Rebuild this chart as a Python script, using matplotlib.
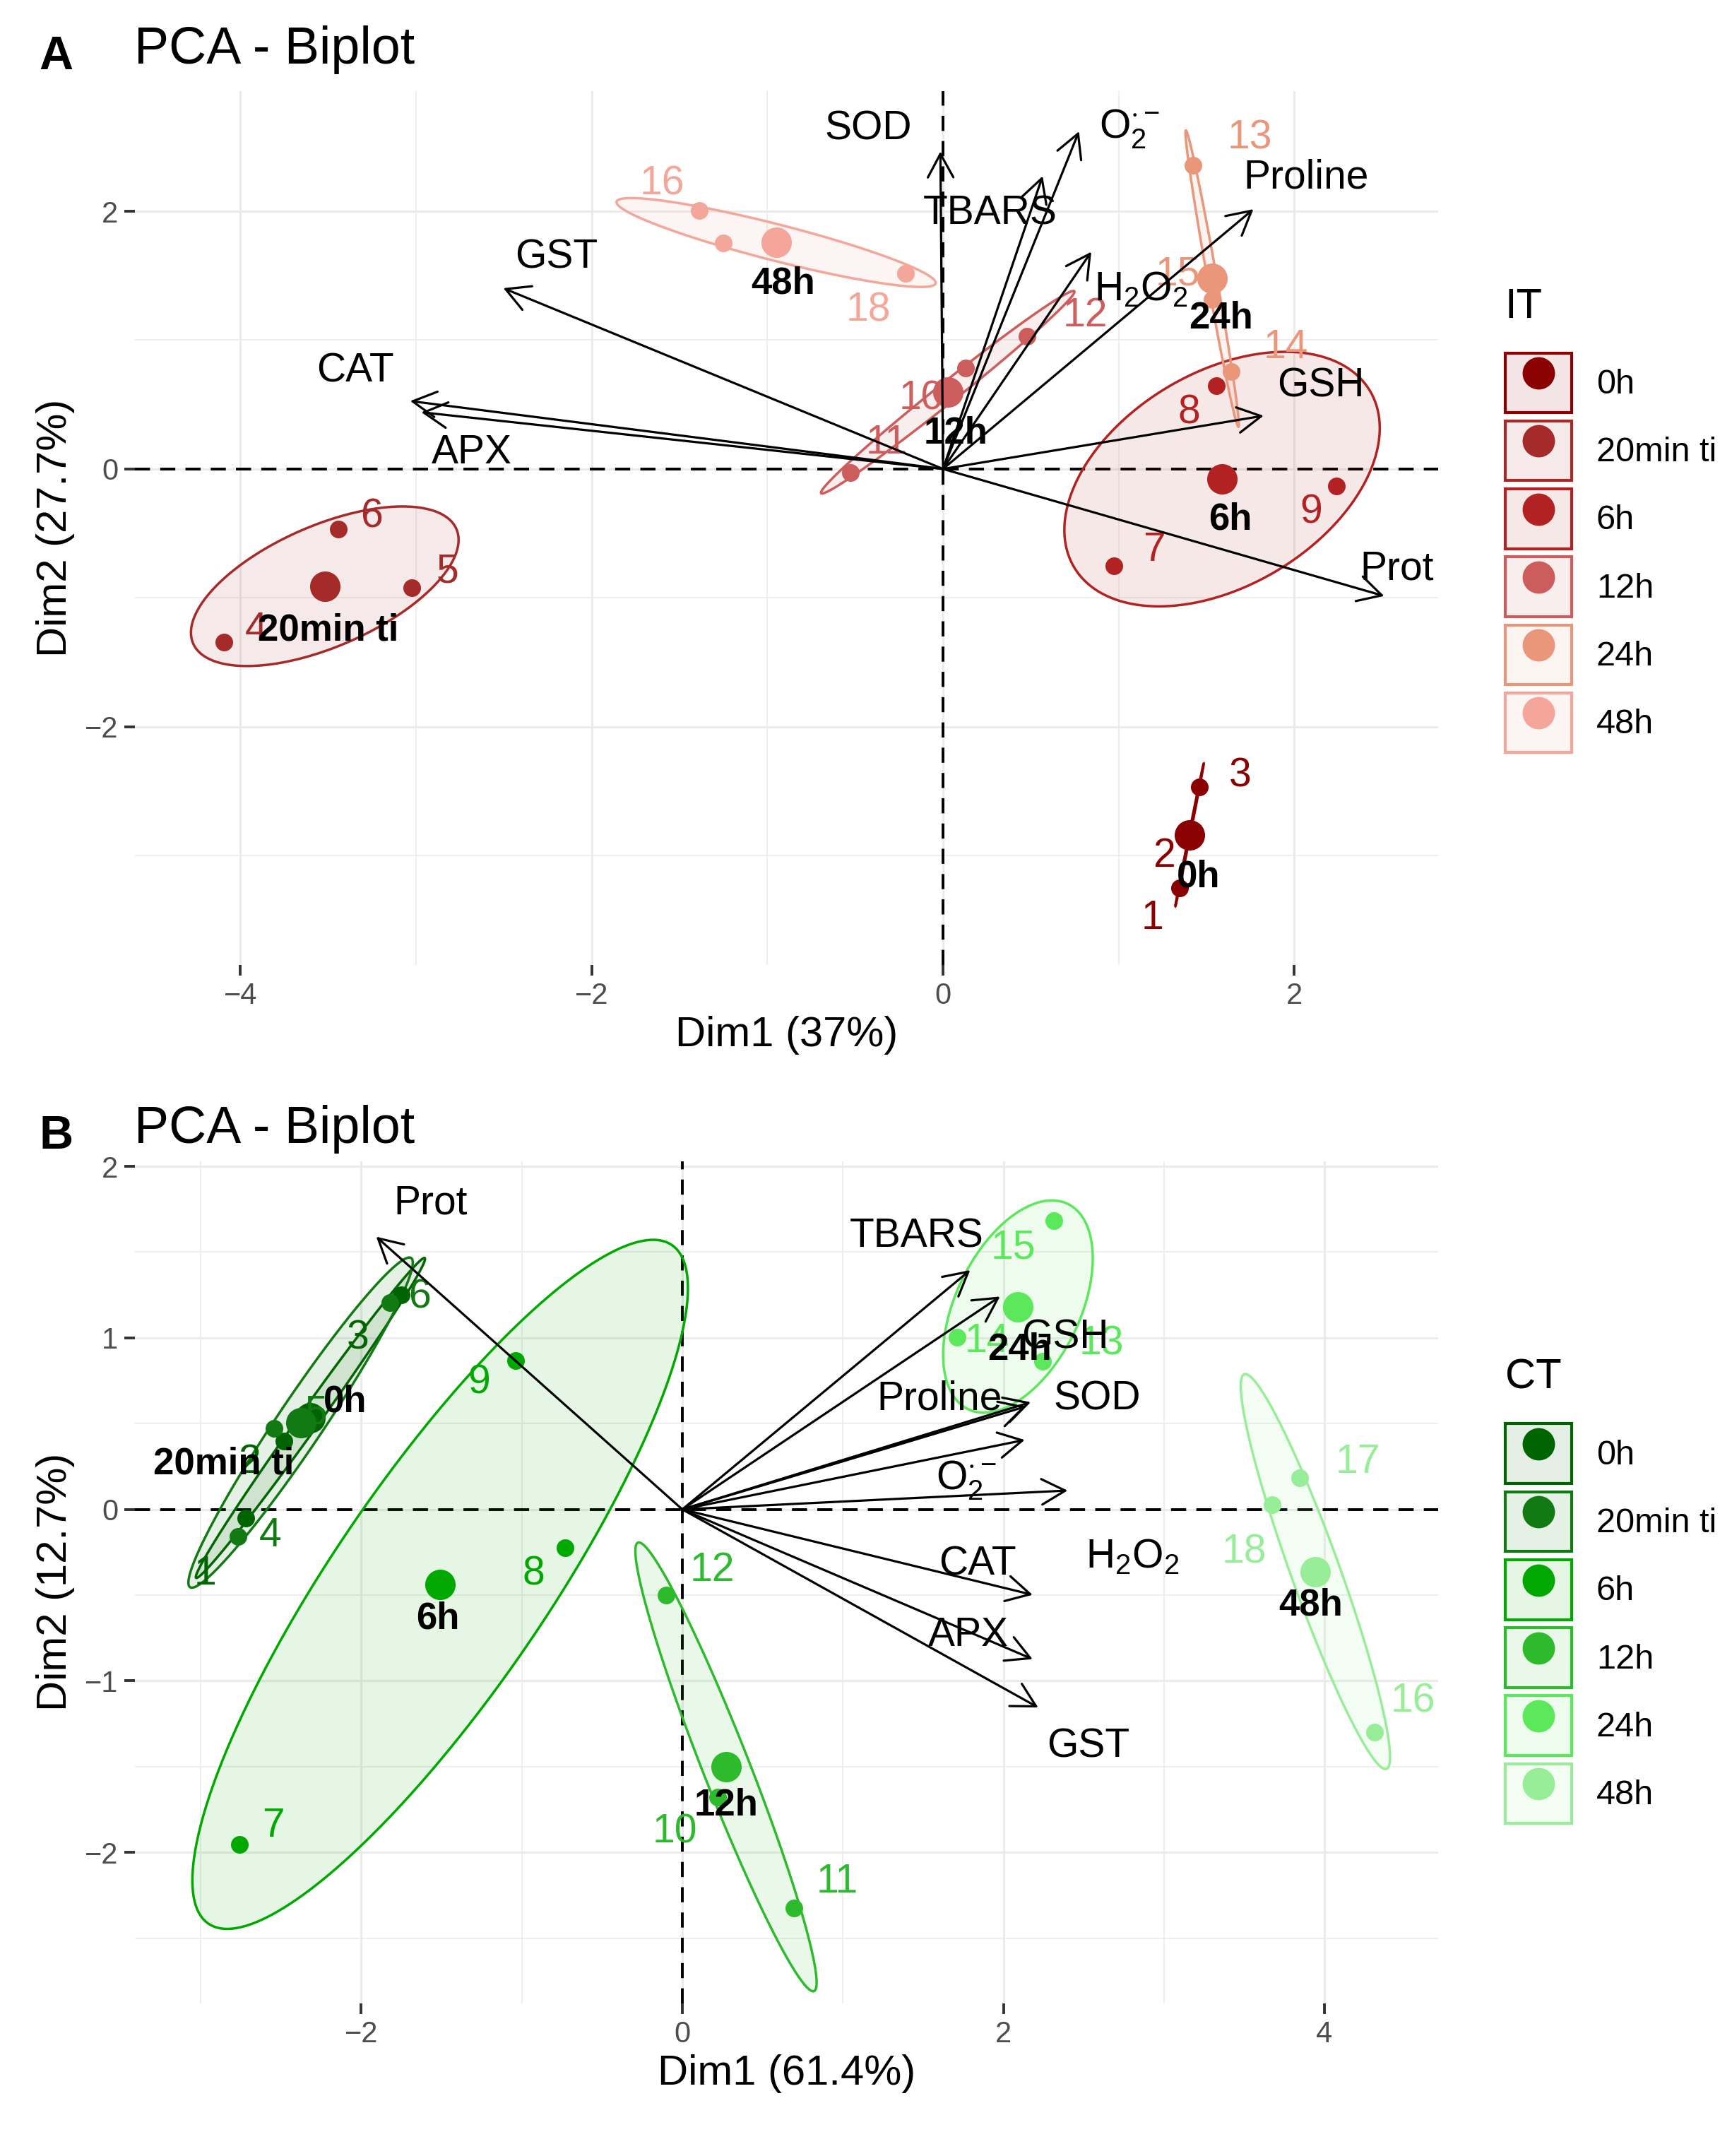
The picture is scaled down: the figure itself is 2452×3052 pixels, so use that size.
import numpy as np
import matplotlib
matplotlib.use("Agg")
import matplotlib.pyplot as plt
from matplotlib.patches import FancyArrowPatch, ArrowStyle, Patch
from matplotlib.lines import Line2D
from matplotlib.legend_handler import HandlerTuple
from matplotlib.colors import to_rgba

plt.rcParams['font.family'] = ['Liberation Sans', 'DejaVu Sans']
plt.rcParams['mathtext.fontset'] = 'custom'
plt.rcParams['mathtext.rm'] = 'Liberation Sans'
plt.rcParams['mathtext.it'] = 'Liberation Sans:italic'

groups = ['0h', '20min ti', '6h', '12h', '24h', '48h']
ind_group = [0, 0, 0, 1, 1, 1, 2, 2, 2, 3, 3, 3, 4, 4, 4, 5, 5, 5]
ind_names = [str(i) for i in range(1, 19)]

# ---- panel A (IT) ----
a_colors = ['#8B0000', '#A52A2A', '#B22222', '#CD5C5C', '#E9967A', '#F4A69A']
a_ind_x = [1.345, 1.406, 1.459, -4.092, -3.022, -3.444, 0.971, 1.554, 2.240,
           0.128, -0.527, 0.479, 1.425, 1.640, 1.531, -1.388, -1.250, -0.212]
a_ind_y = [-3.25, -2.80, -2.47, -1.342, -0.923, -0.466, -0.750, 0.645, -0.131,
           0.785, -0.031, 1.032, 2.359, 0.755, 1.317, 2.004, 1.752, 1.516]
a_lab_x = [1.194, 1.257, 1.691, -3.909, -2.820, -3.254, 1.202, 1.399, 2.094,
           -0.123, -0.32, 0.808, 1.747, 1.952, 1.337, -1.598, np.nan, -0.423]
a_lab_y = [-3.49, -3.006, -2.382, -1.253, -0.801, -0.371, -0.629, 0.435, -0.339,
           0.543, 0.20, 1.189, 2.565, 0.941, 1.511, 2.210, np.nan, 1.231]
a_grp_lab_x = [1.455, -3.498, 1.636, 0.074, 1.581, -0.911]
a_grp_lab_y = [-3.167, -1.253, -0.393, 0.274, 1.167, 1.436]

a_vars = ['SOD', r'$\mathregular{O_2^{\cdot-}}$', 'TBARS', r'$\mathregular{H_2O_2}$',
          'Proline', 'GSH', 'Prot', 'GST', 'CAT', 'APX']
a_var_x = [-0.015, 0.774, 0.567, 0.844, 1.767, 1.825, 2.511, -2.503, -3.033, -2.97]
a_var_y = [2.464, 2.620, 2.273, 1.685, 2.016, 0.413, -0.986, 1.403, 0.527, 0.44]
a_var_lab_x = [-0.426, 1.06, 0.267, 1.125, 2.067, 2.15, 2.583, -2.201, -3.344, -2.681]
a_var_lab_y = [2.640, 2.64, 1.979, 1.39, 2.260, 0.645, -0.775, 1.641, 0.760, 0.123]

# ---- panel B (CT) ----
b_colors = ['#006400', '#127A12', '#00A800', '#2DBB2D', '#5BE85B', '#98EE98']
b_ind_x = [-2.72, -2.48, -1.75, -2.769, -2.543, -1.822, -2.757, -0.729, -1.040,
           0.220, 0.695, -0.099, 2.245, 1.712, 2.315, 4.311, 3.844, 3.676]
b_ind_y = [-0.05, 0.40, 1.25, -0.157, 0.471, 1.204, -1.953, -0.224, 0.866,
           -1.679, -2.325, -0.499, 0.864, 1.002, 1.682, -1.299, 0.184, 0.028]
b_lab_x = [-2.973, -2.696, -2.023, -2.567, -2.282, -1.635, -2.550, -0.927, -1.264,
           -0.047, 0.963, 0.186, 2.611, 1.90, 2.063, 4.553, 4.208, 3.50]
b_lab_y = [-0.378, 0.276, 0.996, -0.152, 0.559, 1.238, -1.848, -0.378, 0.737,
           -1.881, -2.171, -0.354, 0.963, 0.98, 1.526, -1.121, 0.276, -0.249]
b_grp_lab_x = [-2.100, -2.857, -1.523, 0.272, 2.10, 3.914]
b_grp_lab_y = [0.625, 0.266, -0.637, -1.727, 0.93, -0.561]

b_vars = ['Prot', 'TBARS', 'GSH', 'Proline', 'SOD', r'$\mathregular{O_2^{\cdot-}}$',
          r'$\mathregular{H_2O_2}$', 'CAT', 'APX', 'GST']
b_var_x = [-1.907, 1.793, 1.979, 2.14, 2.17, 2.133, 2.400, 2.182, 2.182, 2.217]
b_var_y = [1.590, 1.395, 1.241, 0.60, 0.625, 0.405, 0.110, -0.498, -0.873, -1.155]
b_var_lab_x = [-1.570, 1.459, 2.386, 1.600, 2.582, 1.77, 2.806, 1.838, 1.782, 2.527]
b_var_lab_y = [1.783, 1.591, 1.002, 0.643, 0.643, 0.17, -0.276, -0.322, -0.735, -1.384]


def conf_ellipse(x, y, level=0.95, npts=200):
    # confidence ellipse around the group mean (cov / n, chi2 with 2 df)
    x = np.asarray(x)
    y = np.asarray(y)
    n = len(x)
    cov = np.cov(x, y) / n
    t = np.sqrt(-2 * np.log(1 - level))
    vals, vecs = np.linalg.eigh(cov)
    th = np.linspace(0, 2 * np.pi, npts)
    circ = np.vstack([np.cos(th), np.sin(th)])
    pts = vecs @ (np.sqrt(np.clip(vals, 0, None))[:, None] * circ) * t
    return pts[0] + x.mean(), pts[1] + y.mean()


def biplot(ax, colors, ix, iy, lx, ly, gx, gy, vars_, vx, vy, vlx, vly,
           xlim, ylim, xticks, yticks, xminor, yminor, xlabel, ylabel,
           legend_title, legend_anchor):
    ix = np.array(ix)
    iy = np.array(iy)
    gidx = np.array(ind_group)

    ax.set_xlim(*xlim)
    ax.set_ylim(*ylim)
    ax.set_xticks(xticks)
    ax.set_yticks(yticks)
    ax.set_xticks(xminor, minor=True)
    ax.set_yticks(yminor, minor=True)
    ax.grid(which='major', color='#EBEBEB', lw=2.2)
    ax.grid(which='minor', color='#EBEBEB', lw=1.2)
    ax.set_axisbelow(True)
    for s in ax.spines.values():
        s.set_visible(False)
    ax.tick_params(which='major', length=11, width=2.8, color='#333333',
                   labelsize=30, labelcolor='#4D4D4D', pad=6)
    ax.tick_params(which='minor', length=0)

    ax.axhline(0, color='black', lw=2.8, ls=(0, (5.5, 3.7)), zorder=1.5)
    ax.axvline(0, color='black', lw=2.8, ls=(0, (5.5, 3.7)), zorder=1.5)

    for g, c in enumerate(colors):
        m = gidx == g
        ex, ey = conf_ellipse(ix[m], iy[m])
        ax.fill(ex, ey, facecolor=to_rgba(c, 0.1), edgecolor=c, lw=2.5, zorder=2)
        ax.scatter(ix[m], iy[m], s=18 ** 2, color=c, lw=0, zorder=3)
        ax.scatter([ix[m].mean()], [iy[m].mean()], s=31 ** 2, color=c, lw=0, zorder=3)

    for i, name in enumerate(ind_names):
        if np.isnan(lx[i]):
            continue
        ax.text(lx[i], ly[i], name, color=colors[ind_group[i]], fontsize=41,
                ha='center', va='center', zorder=4)

    for g, name in enumerate(groups):
        ax.text(gx[g], gy[g], name, fontsize=38, fontweight='bold',
                ha='center', va='center', zorder=5)

    for i, v in enumerate(vars_):
        arr = FancyArrowPatch((0, 0), (vx[i], vy[i]),
                              arrowstyle=ArrowStyle('->', head_length=1.2, head_width=0.65),
                              mutation_scale=20, lw=2.3, color='black',
                              shrinkA=0, shrinkB=0, zorder=6)
        ax.add_patch(arr)
        ax.text(vlx[i], vly[i], v, fontsize=41, ha='center', va='center', zorder=7)

    ax.set_xlabel(xlabel, fontsize=43, labelpad=6)
    ax.set_ylabel(ylabel, fontsize=43, labelpad=10)

    handles = [(Patch(facecolor=to_rgba(c, 0.1), edgecolor=c, lw=3),
                Line2D([], [], ls='none', marker='o', ms=32, color=c))
               for c in colors]
    leg = ax.legend(handles, groups, handler_map={tuple: HandlerTuple(ndivide=1, pad=0)},
                    numpoints=1, loc='upper left', bbox_to_anchor=legend_anchor,
                    bbox_transform=ax.figure.transFigure, frameon=False, borderpad=0,
                    borderaxespad=0, title=legend_title, title_fontsize=43, fontsize=35,
                    handlelength=1.93, handleheight=2.3, labelspacing=0.24,
                    handletextpad=0.72, alignment='left')
    # wider gap between legend title and keys
    leg._legend_box.sep = 27


W, H = 2452, 3052
fig = plt.figure(figsize=(W / 100, H / 100), dpi=100)

axA = fig.add_axes([0.0779, 0.5524, 0.7526, 0.4052])
biplot(axA, a_colors, a_ind_x, a_ind_y, a_lab_x, a_lab_y, a_grp_lab_x, a_grp_lab_y,
       a_vars, a_var_x, a_var_y, a_var_lab_x, a_var_lab_y,
       (-4.60, 2.82), (-3.85, 2.93), [-4, -2, 0, 2], [-2, 0, 2],
       [-3, -1, 1], [-3, -1, 1], 'Dim1 (37%)', 'Dim2 (27.7%)',
       'IT', (2131 / W, 1 - 407 / H))

axB = fig.add_axes([0.0779, 0.0708, 0.7526, 0.3906])
biplot(axB, b_colors, b_ind_x, b_ind_y, b_lab_x, b_lab_y, b_grp_lab_x, b_grp_lab_y,
       b_vars, b_var_x, b_var_y, b_var_lab_x, b_var_lab_y,
       (-3.41, 4.71), (-2.88, 2.03), [-2, 0, 2, 4], [-2, -1, 0, 1, 2],
       [-3, -1, 1, 3], [-2.5, -1.5, -0.5, 0.5, 1.5], 'Dim1 (61.4%)', 'Dim2 (12.7%)',
       'CT', (2131 / W, 1 - 1923 / H))

fig.text(55 / W, 1 - 98 / H, 'A', fontsize=48, fontweight='bold', va='baseline')
fig.text(190 / W, 1 - 90 / H, 'PCA - Biplot', fontsize=53, va='baseline')
fig.text(55 / W, 1 - 1626 / H, 'B', fontsize=48, fontweight='bold', va='baseline')
fig.text(190 / W, 1 - 1618 / H, 'PCA - Biplot', fontsize=53, va='baseline')

fig.savefig('out.png', dpi=100)
